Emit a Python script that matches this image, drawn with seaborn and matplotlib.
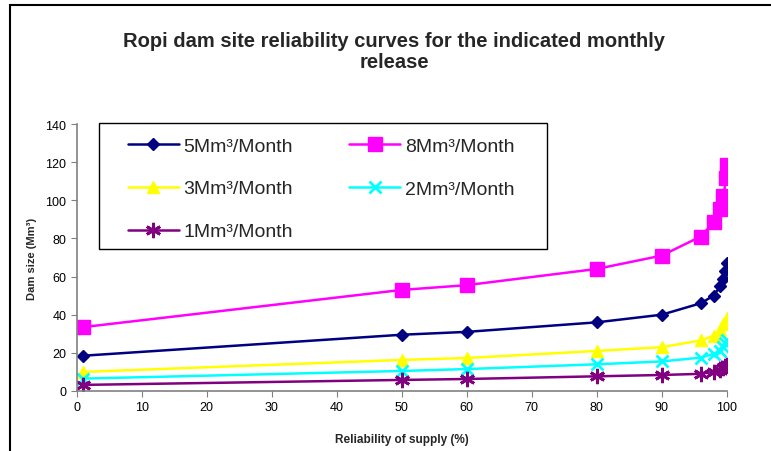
import pandas as pd
import seaborn as sns
import matplotlib.pyplot as plt
from matplotlib.patches import Rectangle

sns.set_style("ticks")
plt.rcParams['font.family'] = ['Liberation Sans', 'DejaVu Sans']

# Reliability (%) vs dam size (Mm3) for each monthly release
x_5 = [1, 50, 60, 80, 90, 96, 98, 99, 99.5, 99.8, 100]
y_5 = [18.5, 29.5, 31, 36, 40, 46, 50, 55, 58.5, 63, 67]
x_8 = [1, 50, 60, 80, 90, 96, 98, 99, 99.5, 99.9, 100]
y_8 = [33.5, 53, 55.5, 64, 71, 81, 88.5, 95.5, 102, 111.5, 118.5]
x_3 = [1, 50, 60, 80, 90, 96, 98, 99, 99.5, 100]
y_3 = [10, 16.3, 17.3, 21, 23, 26.5, 29, 32, 35, 38.5]
x_2 = [1, 50, 60, 80, 90, 96, 98, 99, 99.5, 99.8, 100]
y_2 = [6.5, 10.5, 11.5, 14, 15.5, 17.5, 19.5, 21, 23, 25, 27]
x_1 = [1, 50, 60, 80, 90, 96, 98, 99, 99.5, 99.8, 100]
y_1 = [3.2, 5.8, 6.3, 7.7, 8.4, 9, 10, 11, 12, 13, 13.5]

series = [
    ("5Mm³/Month", x_5, y_5, "#000080", "D", 6.5),
    ("8Mm³/Month", x_8, y_8, "#FF00FF", "s", 10),
    ("3Mm³/Month", x_3, y_3, "#FFFF00", "^", 9),
    ("2Mm³/Month", x_2, y_2, "#00FFFF", "x", 8.5),
    ("1Mm³/Month", x_1, y_1, "#800080", (6, 2, 0), 11),
]

fig = plt.figure(figsize=(7.71, 4.52), dpi=100)
ax = fig.add_axes([76.7 / 771, 1 - 392 / 452, 650 / 771, 267 / 452])

handles = {}
for name, xs, ys, col, mk, ms in series:
    df = pd.DataFrame({"x": xs, "y": ys})
    sns.lineplot(data=df, x="x", y="y", ax=ax, color=col, marker=mk, markersize=ms,
                 markeredgecolor=col, markeredgewidth=2 if mk in ("x", (6, 2, 0)) else 1,
                 linewidth=1.8, sort=False, label=name)
    handles[name] = ax.lines[-1]

ax.set_xlim(0, 100)
ax.set_ylim(0, 140)
ax.set_xticks(range(0, 101, 10))
ax.set_yticks(range(0, 141, 20))
ax.tick_params(labelsize=9, length=4, color="#808080", labelcolor="black")
for s in ["top", "right"]:
    ax.spines[s].set_visible(False)
for s in ["left", "bottom"]:
    ax.spines[s].set_color("#808080")
    ax.spines[s].set_linewidth(1.2)

ax.set_xlabel("Reliability of supply (%)", fontsize=8.5, fontweight="bold", labelpad=14)
ax.set_ylabel("Dam size (Mm³)", fontsize=8, fontweight="bold", labelpad=6)

# legend box drawn separately, entries placed inside it
ax.add_patch(Rectangle(((99 - 76.7) / 650, (392 - 250) / 267), 448 / 650, 126 / 267,
                       transform=ax.transAxes, fill=False, edgecolor="black", linewidth=1,
                       clip_on=False, zorder=5))
order = ["5Mm³/Month", "3Mm³/Month", "1Mm³/Month", "8Mm³/Month", "2Mm³/Month"]
ax.legend([handles[n] for n in order], order, ncol=2, fontsize=14,
          loc="upper left", bbox_to_anchor=((128 - 76.7) / 650, (392 - 138) / 267),
          frameon=False, borderpad=0, borderaxespad=0, handlelength=2.6, handletextpad=0.25,
          columnspacing=2.9, labelspacing=1.3)

fig.text(394 / 771, 1 - 52 / 452, "Ropi dam site reliability curves for the indicated monthly\nrelease",
         ha="center", va="center", fontsize=14.5, fontweight="bold", linespacing=1.15)

fig.patches.append(Rectangle((10 / 771, -0.1), 1.1, 1 - 6 / 452 + 0.1, transform=fig.transFigure,
                             fill=False, edgecolor="black", linewidth=1.5))

plt.savefig("out.png", dpi=100)
